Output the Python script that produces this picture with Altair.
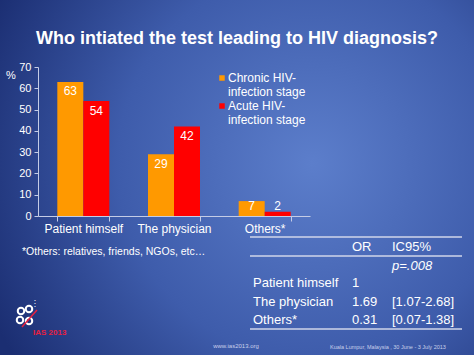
import altair as alt
import pandas as pd

# ---------------- data ----------------
categories = ["Patient himself", "The physician", "Others*"]
series = ["Chronic HIV-infection stage", "Acute HIV-infection stage"]
chronic = [63, 29, 7]
acute = [54, 42, 2]
series_colors = ["#ff9900", "#ff0000"]
legend_lines = [["Chronic HIV-", "infection stage"], ["Acute HIV-", "infection stage"]]
y_ticks = [0, 10, 20, 30, 40, 50, 60, 70]

title_text = "Who intiated the test leading to HIV diagnosis?"
y_unit = "%"
footnote = "*Others: relatives, friends, NGOs, etc\u2026"
table_header = ["OR", "IC95%"]
p_value = "p=.008"
table_rows = ["Patient himself", "The physician", "Others*"]
table_or = ["1", "1.69", "0.31"]
table_ci = ["", "[1.07-2.68]", "[0.07-1.38]"]
footer_site = "www.ias2013.org"
footer_event = "Kuala Lumpur, Malaysia , 30 June - 3 July 2013"
logo_text = "IAS 2013"

rows = []
for s, vals in zip(series, [chronic, acute]):
    for c, v in zip(categories, vals):
        rows.append({"initiator": c, "stage": s, "value": v})
df = pd.DataFrame(rows)
df_legend = pd.DataFrame({"stage": series})
one = pd.DataFrame({"k": [0]})

# ---------------- layout ----------------
FONT = "Liberation Sans"
W, H = 272, 149
OX, OY = 38, 67
AXIS_COLOR = "#c4cce6"

color_scale = alt.Scale(domain=series, range=series_colors)

X = alt.X(
    "initiator:N",
    sort=categories,
    scale=alt.Scale(paddingInner=0.4265, paddingOuter=0.213),
    axis=alt.Axis(
        title=None, labelAngle=0, labelFontSize=12, labelColor="white",
        labelFont=FONT, tickBand="extent", tickSize=5, tickColor=AXIS_COLOR,
        domainColor=AXIS_COLOR, labelPadding=2, zindex=1,
    ),
)
XO = alt.XOffset("stage:N", sort=series, scale=alt.Scale(paddingInner=0, paddingOuter=0))
y_scale = alt.Scale(domain=[0, 70], nice=False)
y_axis = alt.Axis(
    title=None, values=y_ticks, tickCount=len(y_ticks), labelFontSize=11,
    labelColor="white", labelFont=FONT, tickSize=4, tickColor=AXIS_COLOR,
    domainColor=AXIS_COLOR, labelPadding=3, grid=False, zindex=1, labelOverlap=False,
)
Y = alt.Y("value:Q", scale=y_scale, axis=y_axis)


def txt(s, x, y, size=13, align="left", color="white", **kw):
    return alt.Chart(one).mark_text(
        text=s, fontSize=size, align=align, baseline="middle", color=color,
        font=FONT, **kw
    ).encode(x=alt.value(x - OX), y=alt.value(y - OY))


def ring(x, y, size=42):
    return alt.Chart(one).mark_point(
        shape="circle", filled=False, color="white", strokeWidth=2, size=size, opacity=1
    ).encode(x=alt.value(x - OX), y=alt.value(y - OY))


background = alt.Chart(one).mark_rect(
    color={
        "gradient": "radial",
        "stops": [
            {"offset": 0, "color": "#5c7ecb"},
            {"offset": 0.55, "color": "#3e5cab"},
            {"offset": 1, "color": "#1b2e72"},
        ],
        "x1": 0.66, "y1": 0.47, "r1": 0,
        "x2": 0.66, "y2": 0.47, "r2": 0.75,
    }
).encode(
    x=alt.value(-OX), x2=alt.value(474 - OX),
    y=alt.value(-OY), y2=alt.value(355 - OY),
)

bars = alt.Chart(df).mark_bar().encode(
    x=X, xOffset=XO, y=Y,
    color=alt.Color("stage:N", scale=color_scale, legend=None),
)

bar_labels = alt.Chart(df).transform_calculate(
    labpos="max(datum.value - 4.5, 4.5)"
).mark_text(fontSize=12, color="white", font=FONT, baseline="middle").encode(
    x=X, xOffset=XO, y=alt.Y("labpos:Q", scale=y_scale, axis=y_axis), text="value:Q"
)

layers = [background, bars, bar_labels]

# title and axis unit
layers.append(txt(title_text, 237, 39, size=18, align="center", fontWeight="bold"))
layers.append(txt(y_unit, 11, 76, size=11, align="center"))

# legend
for i, s in enumerate(series):
    ly = 78 + 28 * i
    layers.append(
        alt.Chart(df_legend).transform_filter(alt.datum.stage == s)
        .mark_square(size=30, opacity=1)
        .encode(x=alt.value(222 - OX), y=alt.value(ly - OY),
                color=alt.Color("stage:N", scale=color_scale, legend=None))
    )
    for j, line in enumerate(legend_lines[i]):
        layers.append(txt(line, 228, ly + 14 * j, size=12))

# footnote
layers.append(txt(footnote, 22, 252, size=10.5))

# table
for yy in [237, 256, 329]:
    layers.append(
        alt.Chart(one).mark_rule(color="#d0d6ea", strokeWidth=1.5).encode(
            x=alt.value(250 - OX), x2=alt.value(462 - OX), y=alt.value(yy - OY)
        )
    )
layers.append(txt(table_header[0], 352, 247))
layers.append(txt(table_header[1], 392, 247))
layers.append(txt(p_value, 392, 266, fontStyle="italic"))
for k, (r, o, c) in enumerate(zip(table_rows, table_or, table_ci)):
    yy = 283 + 18.5 * k
    layers.append(txt(r, 253, yy))
    layers.append(txt(o, 352, yy))
    if c:
        layers.append(txt(c, 392, yy))

# footer and logo
layers.append(txt(footer_site, 236, 346, size=6, align="center", color="#c8d0ea"))
layers.append(txt(footer_event, 330, 347, size=5.5, color="#c8d0ea"))
for (rx, ry) in [(21, 311), (29, 309), (20, 320), (29, 321)]:
    layers.append(ring(rx, ry))
layers.append(
    alt.Chart(one).mark_rule(color="#e8203f", strokeWidth=1.5).encode(
        x=alt.value(22 - OX), x2=alt.value(37 - OX),
        y=alt.value(327 - OY), y2=alt.value(310 - OY),
    )
)
layers.append(txt("\u2022\n\u2022\n\u2022", 35, 301, size=4, align="center", lineBreak="\n", lineHeight=3))
layers.append(txt(logo_text, 33, 333, size=8, color="#e8203f", fontWeight="bold"))

chart = alt.layer(*layers).properties(
    width=W, height=H,
    autosize=alt.AutoSizeParams(type="none"),
    padding={"left": OX, "top": OY, "right": 474 - OX - W, "bottom": 355 - OY - H},
    background="#2b4590",
).configure_view(stroke=None)

chart.save("out.html", embed_options={"renderer": "svg", "actions": False})
